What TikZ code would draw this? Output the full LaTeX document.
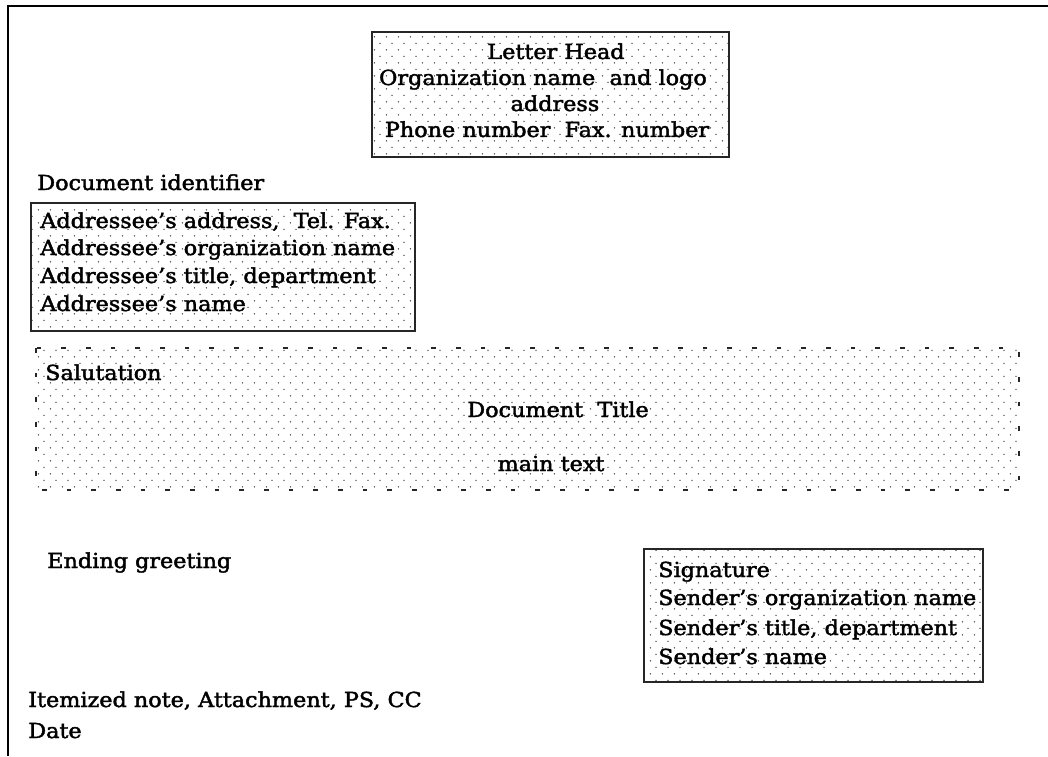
\documentclass[tikz,border=0pt]{standalone}
\usepackage{fontspec}
\setmainfont[FakeStretch=1.08,FakeBold=2]{DejaVu Serif}
\usetikzlibrary{patterns}

% staggered grey dot screen used inside the boxes
\pgfdeclarepatternformonly{stagdots}{\pgfqpoint{0pt}{0pt}}{\pgfqpoint{9pt}{10pt}}{\pgfqpoint{9pt}{10pt}}{%
  \pgfpathcircle{\pgfqpoint{2pt}{2.5pt}}{0.6pt}%
  \pgfpathcircle{\pgfqpoint{6.5pt}{7.5pt}}{0.6pt}%
  \pgfusepath{fill}}

\begin{document}
\begin{tikzpicture}[x=0.75pt,y=-0.75pt,
  txt/.style={inner sep=0pt,anchor=base west,font=\fontsize{15.5}{18}\selectfont},
  ctxt/.style={txt,anchor=base},
  dotbox/.style={draw=black!85,line width=1.4pt,pattern=stagdots,pattern color=black!75},
  dashbox/.style={draw=black!85,line width=1pt,dash pattern=on 3.5pt off 15pt,pattern=stagdots,pattern color=black!75},
  frameline/.style={draw=black,line width=1.3pt}]
\useasboundingbox (0,0) rectangle (1048,756);

% page frame (top and left edges)
\draw[frameline] (8,756) -- (8,6) -- (1048,6);

% letter head
\draw[dotbox] (372,32) rectangle (729,157);
\node[ctxt] (lh1) at (556,59) {Letter Head};
\node[ctxt] (lh2) at (543,85) {Organization name\ \ and logo};
\node[ctxt] (lh3) at (555,111) {address};
\node[ctxt] (lh4) at (547,137) {Phone number\ \ Fax. number};

% document identifier and addressee block
\node[txt] (docid) at (37,190) {Document identifier};
\draw[dotbox] (31,203) rectangle (415,331);
\node[txt] (ad1) at (40,228) {Addressee's address,\ \ Tel. Fax.};
\node[txt] (ad2) at (40,255) {Addressee's organization name};
\node[txt] (ad3) at (40,283) {Addressee's title, department};
\node[txt] (ad4) at (40,311) {Addressee's name};

% body of the letter
\draw[dashbox] (36,348) rectangle (1019,490);
\node[txt] (salut) at (45,380) {Salutation};
\node[ctxt] (title) at (558,417) {Document\ \ Title};
\node[ctxt] (body) at (551,471) {main text};

% closing
\node[txt] (ending) at (47,568) {Ending greeting};
\draw[dotbox] (644,549) rectangle (983,682);
\node[txt] (sg1) at (658,577) {Signature};
\node[txt] (sg2) at (658,605) {Sender's organization name};
\node[txt] (sg3) at (658,635) {Sender's title, department};
\node[txt] (sg4) at (658,664) {Sender's name};

% notes and date
\node[txt] (notes) at (28,707) {Itemized note, Attachment, PS, CC};
\node[txt] (date) at (28,738) {Date};
\end{tikzpicture}
\end{document}
